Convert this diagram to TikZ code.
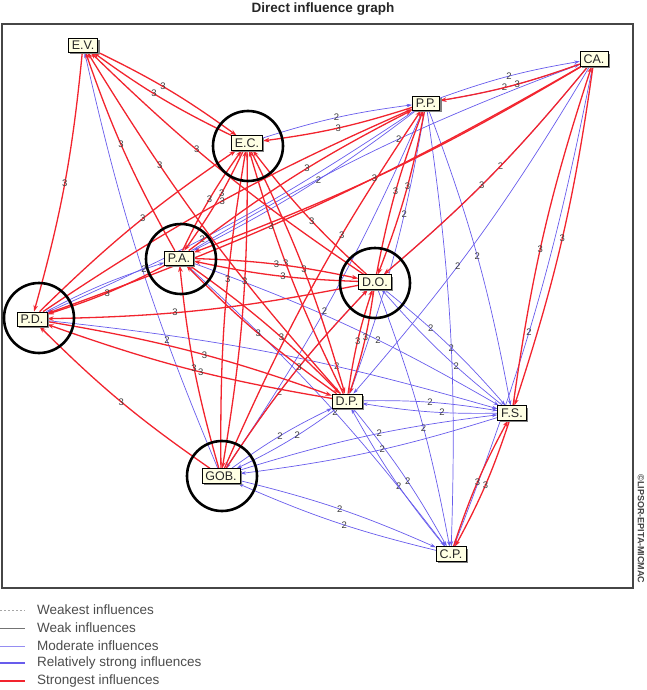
\documentclass[tikz,border=0pt]{standalone}
\usepackage{fontspec}
\setmainfont{Liberation Sans}
\usetikzlibrary{arrows.meta,backgrounds,shadows}
\definecolor{rd}{RGB}{242,36,46}
\definecolor{bl}{RGB}{104,92,236}
\definecolor{nodefill}{RGB}{255,255,228}
\definecolor{framegray}{RGB}{70,70,70}
\begin{document}
\begin{tikzpicture}[x=1pt,y=-1pt,
  var/.style={draw=black,line width=0.6pt,fill=nodefill,inner xsep=3.5pt,inner ysep=2.8pt,
    font=\fontsize{12.5}{13}\selectfont,text=black!85,
    drop shadow={shadow xshift=1.8pt,shadow yshift=-1.8pt,fill=black!50,opacity=1}},
  hub/.style={draw=black,line width=2.6pt,circle,minimum size=70pt,inner sep=0pt},
  strong/.style={rd,line width=1.3pt,-{Stealth[length=6.5pt,width=4.5pt]},bend left=5},
  moder/.style={bl,line width=0.7pt,-{Stealth[length=5.5pt,width=3.5pt]},bend left=5},
  lbl/.style={font=\fontsize{9.5}{10}\selectfont,text=black!75,inner sep=0.5pt},
  legtxt/.style={anchor=west,font=\fontsize{13.5}{14}\selectfont,text=black!70,inner sep=0pt}]
\useasboundingbox (0,0) rectangle (646,690);
% title and frame
\node[font=\bfseries\fontsize{13.5}{14}\selectfont,text=black!85] (title) at (323,9) {Direct influence graph};
\draw[framegray,line width=1.2pt] (2,24) rectangle (633,588);
\node[rotate=-90,font=\bfseries\fontsize{9}{10}\selectfont,text=black!75] (copy) at (641,529) {©LIPSOR-EPITA-MICMAC};
% variables
\node[var] (EV) at (83,45) {E.V.};
\node[var] (EC) at (247,143) {E.C.};
\node[var] (PP) at (426,103) {P.P.};
\node[var] (CA) at (594,59) {CA.};
\node[var] (PA) at (179,258) {P.A.};
\node[var] (DO) at (375,282) {D.O.};
\node[var] (PD) at (32,319) {P.D.};
\node[var] (DP) at (347,401) {D.P.};
\node[var] (FS) at (512,413) {F.S.};
\node[var] (GOB) at (221,476) {GOB.};
\node[var] (CP) at (451,554) {C.P.};
% influences
\begin{pgfonlayer}{background}
\foreach \s/\t/\p in {GOB/EV/.3, CA/PP/.55, PP/CA/.5, CA/DO/.45, CA/CP/.55, CA/DP/.6,
  PP/PA/.45, PP/PD/.6, PP/CP/.55, PP/FS/.5, PP/DP/.35, PP/GOB/.55, DO/FS/.35, FS/DO/.35,
  DO/CP/.55, DP/FS/.5, FS/DP/.4, DP/CP/.55, CP/DP/.45, GOB/DP/.5, DP/GOB/.4,
  GOB/FS/.55, FS/GOB/.45, GOB/CP/.5, CP/GOB/.45, GOB/DO/.4, PA/FS/.6, PA/CP/.55,
  PD/FS/.65, PD/PA/.85, EC/PP/.5, PA/CA/.55}
  \draw[moder] (\s) to node[lbl,pos=\p]{2} (\t);
\foreach \s/\t/\p in {EV/PD/.5, EV/EC/.45, EC/EV/.55, PA/EV/.55, DO/EV/.6, DP/EV/.7,
  PP/EC/.5, PD/EC/.55, PA/EC/.5, GOB/EC/.6, DP/EC/.55, DO/EC/.45, EC/GOB/.4, EC/DP/.5,
  EC/PA/.4, PD/PP/.5, PA/PP/.55, GOB/PP/.65, DO/PP/.5, PP/DO/.45, CA/PP/.45, CA/PD/.6,
  CA/PA/.55, CA/DO/.55, CA/FS/.5, FS/CA/.45, FS/CP/.5, CP/FS/.5, PA/DO/.5, DO/PA/.45,
  DO/PD/.6, PA/PD/.5, GOB/PD/.5, PD/DP/.55, DP/PD/.45, GOB/PA/.5, DP/PA/.5, PA/DP/.6,
  DP/DO/.5, DO/DP/.45, GOB/DO/.55}
  \draw[strong] (\s) to node[lbl,pos=\p]{3} (\t);
\end{pgfonlayer}
% key variables
\node[hub] (cEC) at (248,146) {};
\node[hub] (cPA) at (181,259) {};
\node[hub] (cDO) at (375,283) {};
\node[hub] (cPD) at (39,318) {};
\node[hub] (cGOB) at (222,476) {};
% legend
\draw[black!35,line width=0.6pt,dash pattern=on 2pt off 2pt] (0,610) coordinate (l1a) -- (25,610) coordinate (l1b);
\draw[black!55,line width=0.8pt] (0,628) coordinate (l2a) -- (25,628) coordinate (l2b);
\draw[bl!70,line width=0.8pt] (0,646) coordinate (l3a) -- (25,646) coordinate (l3b);
\draw[bl,line width=1.6pt] (0,663) coordinate (l4a) -- (25,663) coordinate (l4b);
\draw[rd,line width=1.6pt] (0,681) coordinate (l5a) -- (25,681) coordinate (l5b);
\node[legtxt] (t1) at (37,610) {Weakest influences};
\node[legtxt] (t2) at (37,628) {Weak influences};
\node[legtxt] (t3) at (37,646) {Moderate influences};
\node[legtxt] (t4) at (37,663) {Relatively strong influences};
\node[legtxt] (t5) at (37,681) {Strongest influences};
\end{tikzpicture}
\end{document}
